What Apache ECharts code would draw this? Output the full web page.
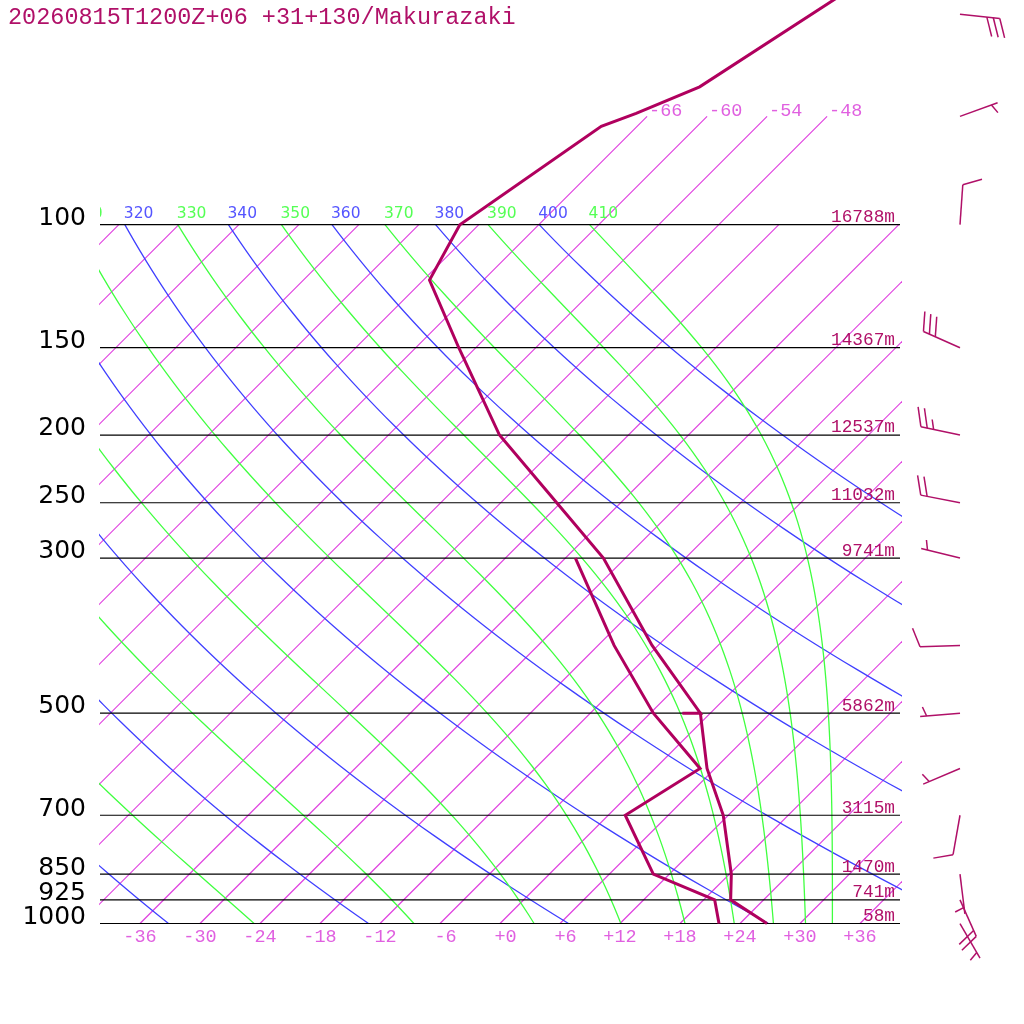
<!DOCTYPE html>
<html>
<head>
<meta charset="utf-8">
<script src="https://cdn.jsdelivr.net/npm/echarts@6/dist/echarts.min.js"></script>
<style>
  html, body { margin: 0; padding: 0; background: #fff; }
  #grafico-sondagem { width: 1024px; height: 1024px; }
</style>
</head>
<body>
<div id="grafico-sondagem"></div>
<script>
// --- DADOS ---
var titulo = '20260815T1200Z+06 +31+130/Makurazaki';

var niveis = [100, 150, 200, 250, 300, 500, 700, 850, 925, 1000];
var alturas = ['16788m', '14367m', '12537m', '11032m', '9741m', '5862m', '3115m', '1470m', '741m', '58m'];

var rotulosTemp = [-36, -30, -24, -18, -12, -6, 0, 6, 12, 18, 24, 30, 36];
var isotermas = [-108, -102, -96, -90, -84, -78, -72, -66, -60, -54, -48, -42, -36, -30, -24, -18, -12, -6, 0, 6, 12, 18, 24, 30, 36];
var isotermasAltas = [-66, -60, -54, -48];   // sobem até 70 hPa, com rótulo
var thetaSeca = [240, 260, 280, 300, 320, 340, 360, 380, 400];
var thetaUmida = [250, 270, 290, 310, 330, 350, 370, 390, 410];

// temperatura (hPa, °C)
var pTemp = [40, 63.5, 69.3, 72.3, 100, 120, 150, 200, 250, 300, 400, 500, 500, 500, 600, 700, 850, 925, 1000];
var temp = [-56.1, -63.7, -67.4, -69.6, -73.9, -71.4, -61.7, -48.9, -36.4, -26.2, -12.6, -1.0, -2.8, -1.0, 5.2, 11.5, 18.2, 20.7, 26.7];

// ponto de orvalho (hPa, °C)
var pOrvalho = [300, 400, 500, 600, 700, 850, 925, 1000];
var orvalho = [-29.0, -16.4, -5.7, 4.5, 1.7, 10.4, 19.1, 21.9];

// vento (hPa, direção em graus, velocidade)
var pVento = [50, 70, 100, 150, 200, 250, 300, 400, 500, 600, 700, 850, 925, 1000];
var dirVento = [96, 70, 4, 294, 282, 281, 284, 268, 265, 247, 190, 173, 156, 150];
var velVento = [30, 5, 10, 30, 25, 20, 5, 10, 5, 5, 10, 5, 20, 5];

// --- CORES ---
var COR_ISO = '#e040e0';
var COR_SECA = '#4040ff';
var COR_UMIDA = '#40ff40';
var COR_PERFIL = '#b0005e';
var COR_TEXTO = '#b01068';
var COR_ROTULO = '#e060e0';

// --- SKEW-T ---
var SKEW = 30.35;                              // graus por e-fold de pressão
var P_TOPO = 1000 * Math.exp(-923.5 / 303.5);  // pressão no topo da figura
var X_VENTO = 46;                              // coluna das barbelas

function xSkew(t, p) { return t + SKEW * Math.log(1000 / p); }

function pressoes(pBase, pTopo, n) {
    var lista = [];
    for (var i = 0; i <= n; i++) lista.push(pBase * Math.pow(pTopo / pBase, i / n));
    return lista;
}

function tempSeca(theta, p) { return theta * Math.pow(p / 1000, 0.2857) - 273.15; }

// Bolton (1980) para parcela saturada
function thetaE(tk, p) {
    var tc = tk - 273.15;
    var es = 6.112 * Math.exp(17.67 * tc / (tc + 243.5));
    if (es > 0.9 * p) return 1e9;
    var r = 621.97 * es / (p - es);
    return tk * Math.pow(1000 / p, 0.2854 * (1 - 0.00028 * r)) *
        Math.exp((3.376 / tk - 0.00254) * r * (1 + 0.00081 * r));
}

function tempUmida(te, p) {
    var lo = 150, hi = 340;
    for (var i = 0; i < 60; i++) {
        var m = (lo + hi) / 2;
        if (thetaE(m, p) > te) hi = m; else lo = m;
    }
    return lo - 273.15;
}

var series = [];

function linha(dados, cor, larg, z) {
    series.push({
        type: 'line', data: dados, symbol: 'none', silent: true, animation: false,
        clip: true, z: z || 2,
        lineStyle: { color: cor, width: larg, join: 'miter' }
    });
}

// isotermas
isotermas.forEach(function (t) {
    var pFim = isotermasAltas.indexOf(t) >= 0 ? 70 : 100;
    linha([[xSkew(t, 1000), 1000], [xSkew(t, pFim), pFim]], COR_ISO, 1.2);
});

// adiabáticas secas e úmidas
var pCurvas = pressoes(1000, 100, 80);
thetaSeca.forEach(function (th) {
    linha(pCurvas.map(function (p) { return [xSkew(tempSeca(th, p), p), p]; }), COR_SECA, 1.3);
});
thetaUmida.forEach(function (te) {
    linha(pCurvas.map(function (p) { return [xSkew(tempUmida(te, p), p), p]; }), COR_UMIDA, 1.3);
});

// isóbaras
niveis.forEach(function (p) {
    linha([[-40, p], [40, p]], '#000', 1.2, 3);
});

// perfis
linha(pTemp.map(function (p, i) { return [xSkew(temp[i], p), p]; }), COR_PERFIL, 3, 5);
linha(pOrvalho.map(function (p, i) { return [xSkew(orvalho[i], p), p]; }), COR_PERFIL, 3, 5);

// --- TEXTOS ---
var MONO = 'Liberation Mono', SANS = 'DejaVu Sans';
var K = { 'Liberation Mono': 0.2667, 'DejaVu Sans': 0.346 };

function serieTexto(itens, clip) {
    series.push({
        type: 'custom', clip: !!clip, silent: true, animation: false, z: 6,
        data: itens.map(function (it) { return [it.x, it.p]; }),
        renderItem: function (params, api) {
            var it = itens[params.dataIndex];
            var pt = api.coord([it.x, it.p]);
            return {
                type: 'text',
                x: pt[0] + it.dx,
                y: pt[1] + it.dy - K[it.fonte] * it.tam,
                style: {
                    text: it.texto, fill: it.cor, fontSize: it.tam, fontFamily: it.fonte,
                    textAlign: it.alinh, textVerticalAlign: 'middle'
                }
            };
        }
    });
}

serieTexto(niveis.map(function (p) {
    return { x: -40, p: p, dx: -14, dy: 2.5, texto: String(p), cor: '#000', tam: 25, fonte: SANS, alinh: 'right' };
}));

serieTexto(niveis.map(function (p, i) {
    return { x: 40, p: p, dx: -5, dy: -2.5, texto: alturas[i], cor: COR_TEXTO, tam: 17.8, fonte: MONO, alinh: 'right' };
}));

serieTexto(isotermasAltas.map(function (t) {
    return { x: xSkew(t, 70), p: 70, dx: 2, dy: 0, texto: String(t), cor: COR_ROTULO, tam: 18.5, fonte: MONO, alinh: 'left' };
}));

var rotulosTheta = [];
thetaSeca.forEach(function (th) {
    rotulosTheta.push({ x: xSkew(tempSeca(th, 100), 100), p: 100, dx: -1, dy: -5, texto: String(th), cor: '#5555ff', tam: 15.5, fonte: SANS, alinh: 'left' });
});
thetaUmida.forEach(function (te) {
    rotulosTheta.push({ x: xSkew(tempUmida(te, 100), 100), p: 100, dx: -1, dy: -5, texto: String(te), cor: '#55ff55', tam: 15.5, fonte: SANS, alinh: 'left' });
});
serieTexto(rotulosTheta, true);

// --- BARBELAS ---
series.push({
    type: 'custom', silent: true, animation: false, z: 6,
    data: pVento.map(function (p) { return [X_VENTO, p]; }),
    renderItem: function (params, api) {
        var i = params.dataIndex;
        var b = api.coord([X_VENTO, pVento[i]]);
        var d = dirVento[i] * Math.PI / 180;
        var s = [Math.sin(d), -Math.cos(d)];
        var n = [-s[1], s[0]];
        var a = 70 * Math.PI / 180;
        var bv = [Math.cos(a) * s[0] + Math.sin(a) * n[0], Math.cos(a) * s[1] + Math.sin(a) * n[1]];
        var L = 40, G = 6.5;
        var fim = [b[0] + L * s[0], b[1] + L * s[1]];
        var estilo = { stroke: COR_TEXTO, lineWidth: 1.5 };
        var filhos = [{ type: 'line', shape: { x1: b[0], y1: b[1], x2: fim[0], y2: fim[1] }, style: estilo }];
        var cheias = Math.floor(velVento[i] / 10);
        var meias = Math.round((velVento[i] - cheias * 10) / 5);
        var pos = cheias === 0 ? 1 : 0;
        var traco = function (comp) {
            var x0 = fim[0] - pos * G * s[0], y0 = fim[1] - pos * G * s[1];
            filhos.push({ type: 'line', shape: { x1: x0, y1: y0, x2: x0 + comp * bv[0], y2: y0 + comp * bv[1] }, style: estilo });
            pos++;
        };
        for (var k = 0; k < cheias; k++) traco(20);
        for (k = 0; k < meias; k++) traco(10);
        return { type: 'group', children: filhos };
    }
});

// --- GRÁFICO ---
var grafico = echarts.init(document.getElementById('grafico-sondagem'));
grafico.setOption({
    animation: false,
    backgroundColor: '#fff',
    title: {
        text: titulo, left: 8, top: 6, padding: 0,
        textStyle: { color: COR_TEXTO, fontFamily: MONO, fontSize: 23.5, fontWeight: 'normal', lineHeight: 24 }
    },
    grid: { left: 100, top: 0, width: 800, height: 923.5, outerBoundsMode: 'none' },
    xAxis: {
        type: 'value', min: -40, max: 40,
        axisLine: { show: false }, axisTick: { show: false }, splitLine: { show: false },
        axisLabel: {
            customValues: rotulosTemp,
            formatter: function (v) {
                var txt = (v < 0 ? '-' : '+') + Math.abs(v);
                while (txt.length < 3) txt = ' ' + txt;
                return txt;
            },
            color: COR_ROTULO, fontFamily: MONO, fontSize: 18.5, margin: 13.5, verticalAlign: 'middle'
        }
    },
    yAxis: {
        type: 'log', inverse: true, min: P_TOPO, max: 1000,
        axisLine: { show: false }, axisTick: { show: false }, splitLine: { show: false },
        axisLabel: { show: false }
    },
    series: series
});
</script>
</body>
</html>
